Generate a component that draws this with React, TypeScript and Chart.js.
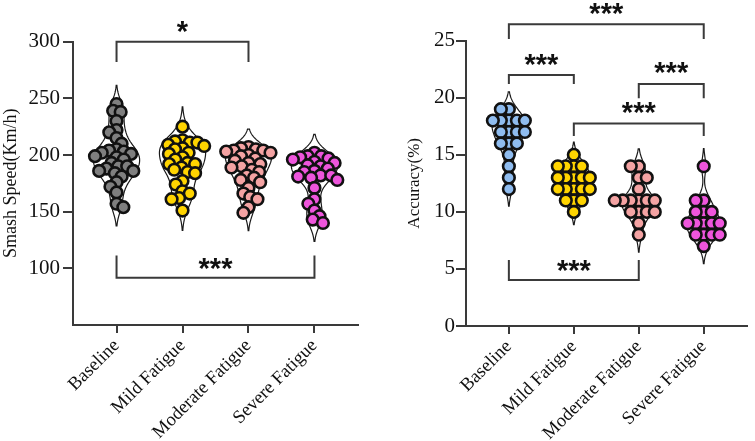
import React, { useEffect, useRef } from 'react';
import { Chart, registerables } from 'chart.js';

Chart.register(...registerables);

// ---- data ----
const groups = ['Baseline', 'Mild Fatigue', 'Moderate Fatigue', 'Severe Fatigue'];

const speedBaseline = [245, 239, 238, 230, 222, 220, 215, 210, 205, 204, 203, 202, 201, 199, 198, 196, 193, 190, 190, 188, 186, 186, 184, 181, 176, 172, 167, 157, 154];
const speedMild = [225, 213, 212, 211, 211, 209, 208, 206, 205, 202, 201, 198, 196, 193, 192, 192, 189, 187, 185, 184, 177, 174, 168, 166, 162, 161, 151];
const speedModerate = [207, 206, 205, 204, 204, 203, 202, 200, 199, 197, 195, 193, 192, 190, 189, 187, 185, 182, 180, 178, 176, 171, 166, 163, 161, 154, 149];
const speedSevere = [202, 199, 199, 198, 197, 196, 194, 193, 191, 190, 188, 186, 185, 182, 182, 181, 180, 178, 171, 161, 157, 151, 146, 143, 140];

const accuracyBaseline = [19, 19, 18, 18, 18, 18, 18, 17, 17, 17, 17, 16, 16, 16, 15, 14, 13, 12];
const accuracyMild = [15, 14, 14, 14, 14, 13, 13, 13, 13, 13, 12, 12, 12, 12, 12, 11, 11, 11, 10];
const accuracyModerate = [14, 14, 13, 13, 12, 11, 11, 11, 11, 11, 11, 10, 10, 10, 10, 9, 8];
const accuracySevere = [14, 11, 11, 10, 10, 10, 9, 9, 9, 9, 9, 8, 8, 8, 8, 7];

const speedTicks = [100, 150, 200, 250, 300];
const accuracyTicks = [0, 5, 10, 15, 20, 25];

const speedColors = ['#7f7f7f', '#ffd400', '#f4a3a3', '#ee55dc'];
const accuracyColors = ['#8fbcef', '#ffd400', '#f4a3a3', '#ee55dc'];

// significance brackets: groups compared, bar level, tip level, label level (axis units)
const speedComparisons = [
  { from: 0, to: 2, level: 300, tip: 282, labelAt: 313, label: '*' },
  { from: 0, to: 3, level: 91.6, tip: 111.4, labelAt: 104, label: '***' },
];
const accuracyComparisons = [
  { from: 0, to: 3, level: 26.45, tip: 25.15, labelAt: 27.8, label: '***' },
  { from: 0, to: 1, level: 22.0, tip: 21.2, labelAt: 23.3, label: '***' },
  { from: 2, to: 3, level: 21.2, tip: 19.95, labelAt: 22.6, label: '***' },
  { from: 1, to: 3, level: 17.75, tip: 16.65, labelAt: 19.07, label: '***' },
  { from: 0, to: 2, level: 4.03, tip: 5.78, labelAt: 5.28, label: '***' },
];

// ---- helpers ----
const SERIF = '"Liberation Serif", "Times New Roman", serif';
const AXIS = '#3a3a3a';

function quantile(sorted: number[], q: number) {
  const pos = (sorted.length - 1) * q;
  const lo = Math.floor(pos);
  const hi = Math.ceil(pos);
  return sorted[lo] + (sorted[hi] - sorted[lo]) * (pos - lo);
}

function bandwidth(vals: number[]) {
  const n = vals.length;
  const mean = vals.reduce((a, b) => a + b, 0) / n;
  const sd = Math.sqrt(vals.reduce((a, b) => a + (b - mean) ** 2, 0) / (n - 1));
  const s = [...vals].sort((a, b) => a - b);
  const iqr = quantile(s, 0.75) - quantile(s, 0.25);
  const spread = iqr > 0 ? Math.min(sd, iqr / 1.34) : sd;
  return 0.9 * spread * Math.pow(n, -0.2);
}

function makeViolinPlugin(series: number[][], halfWidth: number) {
  return {
    id: 'violins',
    beforeDatasetsDraw(chart: any) {
      const { ctx, scales } = chart;
      const xs = scales.x;
      const ys = scales.y;
      series.forEach((vals, g) => {
        const h = bandwidth(vals);
        const lo = Math.min(...vals) - 2 * h;
        const hi = Math.max(...vals) + 2 * h;
        const steps = 120;
        const grid: number[] = [];
        const dens: number[] = [];
        for (let i = 0; i <= steps; i++) {
          const v = lo + ((hi - lo) * i) / steps;
          let d = 0;
          for (const x of vals) d += Math.exp(-0.5 * ((v - x) / h) ** 2);
          grid.push(v);
          dens.push(d);
        }
        const dmax = Math.max(...dens);
        ctx.save();
        ctx.beginPath();
        grid.forEach((v, i) => {
          const px = xs.getPixelForValue(g + (halfWidth * dens[i]) / dmax);
          const py = ys.getPixelForValue(v);
          if (i === 0) ctx.moveTo(px, py);
          else ctx.lineTo(px, py);
        });
        for (let i = grid.length - 1; i >= 0; i--) {
          ctx.lineTo(xs.getPixelForValue(g - (halfWidth * dens[i]) / dmax), ys.getPixelForValue(grid[i]));
        }
        ctx.closePath();
        ctx.fillStyle = '#ffffff';
        ctx.fill();
        ctx.strokeStyle = '#1a1a1a';
        ctx.lineWidth = 1.2;
        ctx.stroke();
        ctx.restore();
      });
    },
  };
}

type Comparison = { from: number; to: number; level: number; tip: number; labelAt: number; label: string };

function makeBracketPlugin(comparisons: Comparison[]) {
  return {
    id: 'brackets',
    afterDraw(chart: any) {
      const { ctx, scales } = chart;
      const xs = scales.x;
      const ys = scales.y;
      ctx.save();
      ctx.strokeStyle = AXIS;
      ctx.lineWidth = 2;
      comparisons.forEach((c) => {
        const x1 = xs.getPixelForValue(c.from);
        const x2 = xs.getPixelForValue(c.to);
        const yl = ys.getPixelForValue(c.level);
        const yt = ys.getPixelForValue(c.tip);
        ctx.beginPath();
        ctx.moveTo(x1, yt);
        ctx.lineTo(x1, yl);
        ctx.lineTo(x2, yl);
        ctx.lineTo(x2, yt);
        ctx.stroke();
        ctx.font = 'bold 29px "Liberation Sans", Arial, sans-serif';
        ctx.fillStyle = '#111';
        ctx.textAlign = 'center';
        ctx.textBaseline = 'alphabetic';
        const m = ctx.measureText(c.label);
        const yc = ys.getPixelForValue(c.labelAt);
        const shift = (m.actualBoundingBoxAscent - m.actualBoundingBoxDescent) / 2;
        ctx.fillText(c.label, (x1 + x2) / 2, yc + shift);
      });
      ctx.restore();
    },
  };
}

// beeswarm placement: each point sits as close to the group centre as it can
// without coming nearer than minDist pixels to a point already placed
function swarmOffsets(values: number[], toPx: (v: number) => number, minDist: number) {
  const order = values.map((_, i) => i).sort((a, b) => values[b] - values[a]);
  const placed: { x: number; y: number }[] = [];
  const out = new Array(values.length).fill(0);
  let lastSign = 1;
  for (const i of order) {
    const y = toPx(values[i]);
    const near = placed.filter((p) => Math.abs(p.y - y) < minDist);
    const cands = [0];
    near.forEach((p) => {
      const w = Math.sqrt(minDist * minDist - (p.y - y) ** 2);
      cands.push(p.x - w, p.x + w);
    });
    const ok = (x: number) => near.every((p) => Math.hypot(p.x - x, p.y - y) >= minDist - 1e-6);
    let best: number | null = null;
    for (const c of cands) {
      if (!ok(c)) continue;
      if (best === null) best = c;
      else if (Math.abs(c) < Math.abs(best) - 1e-6) best = c;
      else if (Math.abs(Math.abs(c) - Math.abs(best)) < 1e-6 && Math.sign(c) === -lastSign) best = c;
    }
    const bx = best ?? 0;
    if (bx !== 0) lastSign = Math.sign(bx);
    placed.push({ x: bx, y });
    out[i] = bx;
  }
  return out;
}

type PanelProps = {
  width: number;
  series: number[][];
  colors: string[];
  ticks: number[];
  yMin: number;
  yMax: number;
  title: string;
  titleSize: number;
  titlePad: number;
  axisWidth: number;
  axisHeight: number;
  padTop: number;
  padRight: number;
  tickPad: number;
  swarmDist: number;
  violinWidth: number;
  comparisons: Comparison[];
};

function Panel(props: PanelProps) {
  const ref = useRef<HTMLCanvasElement | null>(null);
  useEffect(() => {
    if (!ref.current) return;
    const p = props;
    const chart = new Chart(ref.current, {
      type: 'scatter',
      data: {
        datasets: p.series.map((vals, g) => ({
          label: groups[g],
          data: vals.map((v) => ({ x: g, y: v })),
          pointBackgroundColor: p.colors[g],
          pointBorderColor: '#111',
          pointBorderWidth: 2.6,
          pointRadius: 5.8,
          pointHoverRadius: 5.8,
        })),
      },
      options: {
        responsive: false,
        animation: false,
        events: [],
        layout: { padding: { top: p.padTop, right: p.padRight, left: 0, bottom: 0 } },
        plugins: { legend: { display: false }, tooltip: { enabled: false } },
        scales: {
          x: {
            type: 'linear',
            min: -0.66,
            max: 3.66,
            afterBuildTicks: (s: any) => {
              s.ticks = groups.map((_, i) => ({ value: i }));
            },
            afterFit: (s: any) => {
              s.height = p.axisHeight;
            },
            ticks: {
              autoSkip: false,
              minRotation: 45,
              maxRotation: 45,
              padding: 2,
              color: '#111',
              font: { family: SERIF, size: 18.5 },
              callback: (v: any) => groups[v as number],
            },
            grid: { drawOnChartArea: false, drawTicks: true, tickLength: 8, color: AXIS, lineWidth: 2 },
            border: { color: AXIS, width: 2 },
          },
          y: {
            min: p.yMin,
            max: p.yMax,
            afterBuildTicks: (s: any) => {
              s.ticks = p.ticks.map((v) => ({ value: v }));
            },
            afterFit: (s: any) => {
              s.width = p.axisWidth;
            },
            ticks: { padding: p.tickPad, color: '#111', font: { family: SERIF, size: 21 } },
            grid: { drawOnChartArea: false, drawTicks: true, tickLength: 10, color: AXIS, lineWidth: 2 },
            border: { color: AXIS, width: 2 },
            title: {
              display: true,
              text: p.title,
              color: '#111',
              font: { family: SERIF, size: p.titleSize },
              padding: { top: p.titlePad, bottom: 0 },
            },
          },
        },
      },
      plugins: [makeViolinPlugin(p.series, p.violinWidth), makeBracketPlugin(p.comparisons)],
    } as any);

    // spread the points of each group sideways once the scales are known
    const xs: any = chart.scales.x;
    const ys: any = chart.scales.y;
    const pxPerUnit = xs.getPixelForValue(1) - xs.getPixelForValue(0);
    chart.data.datasets.forEach((ds: any, g: number) => {
      const vals = p.series[g];
      const offs = swarmOffsets(vals, (v) => ys.getPixelForValue(v), p.swarmDist);
      ds.data = vals.map((v, k) => ({ x: g + offs[k] / pxPerUnit, y: v }));
    });
    chart.update();

    return () => chart.destroy();
  }, []);
  return <canvas ref={ref} width={props.width} height={441} style={{ display: 'block' }} />;
}

export default function App() {
  return (
    <div style={{ position: 'fixed', left: 0, top: 0, width: 755, height: 441, background: '#fff', display: 'flex' }}>
      <Panel
        width={378}
        series={[speedBaseline, speedMild, speedModerate, speedSevere]}
        colors={speedColors}
        ticks={speedTicks}
        yMin={50}
        yMax={300}
        title="Smash Speed(Km/h)"
        titleSize={18}
        titlePad={0}
        axisWidth={73}
        axisHeight={116}
        padTop={41.7}
        padRight={20}
        tickPad={3}
        swarmDist={7.6}
        violinWidth={0.35}
        comparisons={speedComparisons}
      />
      <Panel
        width={377}
        series={[accuracyBaseline, accuracyMild, accuracyModerate, accuracySevere]}
        colors={accuracyColors}
        ticks={accuracyTicks}
        yMin={0}
        yMax={25}
        title="Accuracy(%)"
        titleSize={17}
        titlePad={26.8}
        axisWidth={88}
        axisHeight={115}
        padTop={40.7}
        padRight={3.3}
        tickPad={1}
        swarmDist={8}
        violinWidth={0.26}
        comparisons={accuracyComparisons}
      />
    </div>
  );
}
